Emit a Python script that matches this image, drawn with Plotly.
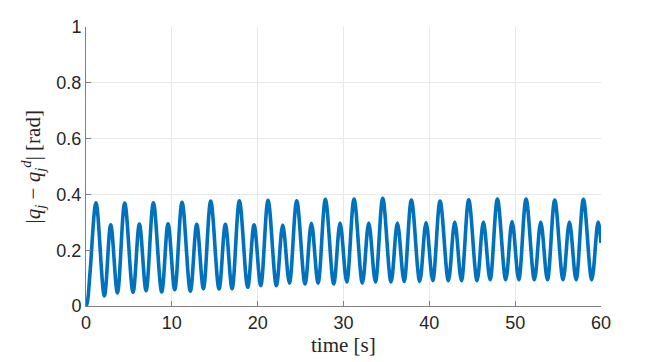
import plotly.graph_objects as go

# extrema of |q_j - q_j^d|
time_s = [
    0.0, 0.15, 0.47,
    1.17, 2.14, 2.88, 3.66,
    4.51, 5.48, 6.22, 7.00,
    7.85, 8.82, 9.56, 10.34,
    11.19, 12.16, 12.90, 13.68,
    14.53, 15.50, 16.24, 17.02,
    17.87, 18.84, 19.58, 20.36,
    21.21, 22.18, 22.92, 23.70,
    24.55, 25.52, 26.26, 27.04,
    27.89, 28.86, 29.60, 30.38,
    31.23, 32.20, 32.94, 33.72,
    34.57, 35.54, 36.28, 37.06,
    37.91, 38.88, 39.62, 40.40,
    41.25, 42.22, 42.96, 43.74,
    44.59, 45.56, 46.30, 47.08,
    47.93, 48.90, 49.64, 50.42,
    51.27, 52.24, 52.98, 53.76,
    54.61, 55.58, 56.32, 57.10,
    57.95, 58.92, 59.66, 60.0,
]
error_rad = [
    0.0, 0.012, 0.12,
    0.370, 0.036, 0.291, 0.047,
    0.369, 0.049, 0.294, 0.055,
    0.370, 0.050, 0.295, 0.058,
    0.372, 0.053, 0.293, 0.062,
    0.376, 0.061, 0.293, 0.062,
    0.377, 0.067, 0.291, 0.073,
    0.379, 0.073, 0.290, 0.082,
    0.377, 0.079, 0.296, 0.082,
    0.382, 0.079, 0.297, 0.086,
    0.383, 0.082, 0.297, 0.086,
    0.386, 0.086, 0.297, 0.088,
    0.380, 0.088, 0.299, 0.091,
    0.376, 0.091, 0.301, 0.091,
    0.381, 0.091, 0.301, 0.094,
    0.383, 0.094, 0.303, 0.094,
    0.383, 0.094, 0.301, 0.094,
    0.380, 0.094, 0.301, 0.094,
    0.382, 0.094, 0.301, 0.226,
]

x_ticks = [0, 10, 20, 30, 40, 50, 60]
y_ticks = [0, 0.2, 0.4, 0.6, 0.8, 1]
y_tick_text = ['0', '0.2', '0.4', '0.6', '0.8', '1']

serif = 'Liberation Serif, Times New Roman, serif'

trace = go.Scatter(
    x=time_s,
    y=error_rad,
    mode='lines',
    line=dict(color='#0072BD', width=3.6, shape='spline', smoothing=1.0),
    showlegend=False,
    hoverinfo='skip'
)

axis_style = dict(
    showgrid=True,
    gridcolor='#e8e8e8',
    gridwidth=1,
    zeroline=False,
    showline=True,
    linecolor='#808080',
    linewidth=1,
    ticks='inside',
    ticklen=5,
    tickcolor='#808080',
    automargin=False,
    tickfont=dict(family='Liberation Sans, Arial, sans-serif', size=18, color='#262626'),
)

# the page body adds an 8px offset, so the figure is a bit smaller than the window
layout = go.Layout(
    width=656,
    height=354,
    plot_bgcolor='white',
    paper_bgcolor='white',
    margin=dict(l=78, r=63, t=19, b=56),
    xaxis=dict(range=[0, 60], tickvals=x_ticks, **axis_style),
    yaxis=dict(range=[0, 1], tickvals=y_ticks, ticktext=y_tick_text, **axis_style),
)

fig = go.Figure(data=[trace], layout=layout)

# axis titles placed by hand (LaTeX-like serif labels)
fig.add_annotation(
    text='time [s]', xref='paper', yref='paper', x=0.5, y=-0.14,
    xanchor='center', yanchor='middle', showarrow=False,
    font=dict(family=serif, size=21, color='#262626')
)
fig.add_annotation(
    text='|<i>q</i><sub><i>j</i></sub> \u2212 <i>q</i><sub><i>j</i></sub><sup><i>d</i></sup>| [rad]',
    xref='paper', yref='paper', x=-0.103, y=0.5, textangle=-90,
    xanchor='center', yanchor='middle', showarrow=False,
    font=dict(family=serif, size=21, color='#262626')
)

fig.write_html("out.html")
